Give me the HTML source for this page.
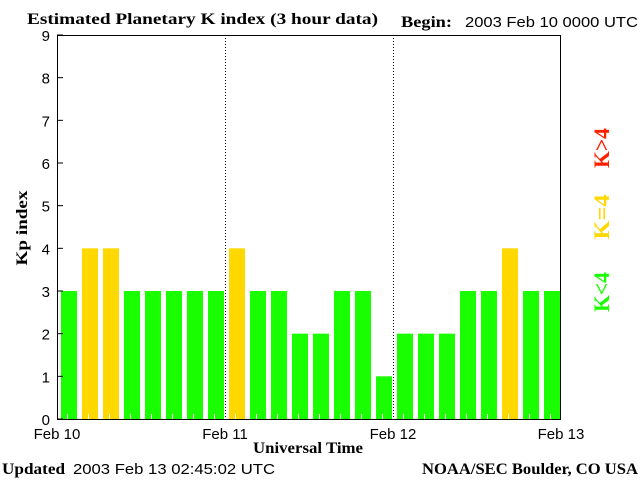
<!DOCTYPE html>
<html><head><meta charset="utf-8"><style>
body{margin:0;background:#fff;}
svg{display:block;}
.s{font-family:"Liberation Sans",sans-serif;font-size:15px;}
.b{font-family:"Liberation Serif",serif;font-weight:bold;font-size:16px;}
</style></head><body>
<svg id="c" width="640" height="480" xmlns="http://www.w3.org/2000/svg">
<text class="b" x="27" y="24" textLength="351" lengthAdjust="spacingAndGlyphs">Estimated Planetary K index (3 hour data)</text>
<text class="b" x="401" y="27" textLength="51" lengthAdjust="spacingAndGlyphs">Begin:</text>
<text class="s" x="465" y="27" textLength="173" lengthAdjust="spacingAndGlyphs">2003 Feb 10 0000 UTC</text>
<text class="b" x="27" y="228" transform="rotate(-90 27 228)" text-anchor="middle" textLength="75" lengthAdjust="spacingAndGlyphs">Kp index</text>
<text class="b" x="253" y="453" textLength="110" lengthAdjust="spacingAndGlyphs">Universal Time</text>
<text class="b" x="2" y="474" textLength="63" lengthAdjust="spacingAndGlyphs">Updated</text>
<text class="s" x="73" y="474" textLength="202" lengthAdjust="spacingAndGlyphs">2003 Feb 13 02:45:02 UTC</text>
<text class="b" x="422" y="474" textLength="216" lengthAdjust="spacingAndGlyphs">NOAA/SEC Boulder, CO USA</text>
<g font-family="Liberation Serif,serif" font-weight="bold" font-size="22" text-anchor="middle">
<text x="609" y="148" transform="rotate(-90 609 148)" textLength="40" lengthAdjust="spacingAndGlyphs" fill="#ff2000">K&gt;4</text>
<text x="609" y="217" transform="rotate(-90 609 217)" textLength="45" lengthAdjust="spacingAndGlyphs" fill="#ffd800">K=4</text>
<text x="609" y="292" transform="rotate(-90 609 292)" textLength="40" lengthAdjust="spacingAndGlyphs" fill="#1aff00">K&lt;4</text>
</g>
<g id="plot"></g>
</svg>
<script>
const kpValues=[3,4,4,3,3,3,3,3,4,3,3,2,2,3,3,1,2,2,2,3,3,4,3,3];
const yTicks=[0,1,2,3,4,5,6,7,8,9];
const dayLabels=["Feb 10","Feb 11","Feb 12","Feb 13"];
const L=57,R=561,T=35,B=419;
const ns="http://www.w3.org/2000/svg";
const g=document.getElementById('plot');
const ys=v=>B-(B-T)*v/9;
const xs=i=>L+(R-L)*i/kpValues.length;
function mk(t,a){const e=document.createElementNS(ns,t);for(const k in a)e.setAttribute(k,a[k]);g.appendChild(e);return e;}
const step=(R-L)/kpValues.length;
kpValues.forEach((v,i)=>{
 const c=v>4?"#ff2000":v===4?"#ffd800":"#1aff00";
 const r=mk('rect',{x:xs(i)+4,y:ys(v),width:step-5,height:B-ys(v),fill:c});
 
 
 const tk=mk('line',{x1:xs(i)+step/2,x2:xs(i)+step/2,y1:B-5,y2:B,stroke:"#fff"});
 
 
});
for(let d=1;d<dayLabels.length-1;d++){
 const x=xs(d*8)+0.5;
 const l=mk('line',{x1:x,x2:x,y1:T,y2:B,stroke:"#000","stroke-dasharray":"1,2"});
 
 
}
const fr=mk('rect',{x:L+0.5,y:T+0.5,width:R-L-1,height:B-T,fill:"none",stroke:"#000"});


yTicks.forEach(v=>{
 const y=ys(v);
 const t=mk('line',{x1:L,x2:L+6,y1:y,y2:y,stroke:"#000"});
 
 
 const tx=mk('text',{x:L-7,y:y+6,"text-anchor":"end",class:"s","font-size":"16"});
 tx.textContent=v;
 
 
});
dayLabels.forEach((d,i)=>{
 const tx=mk('text',{x:L+(R-L)*i/3,y:439,"text-anchor":"middle",class:"s"});
 tx.textContent=d;
 
 
});
</script>
</body></html>
